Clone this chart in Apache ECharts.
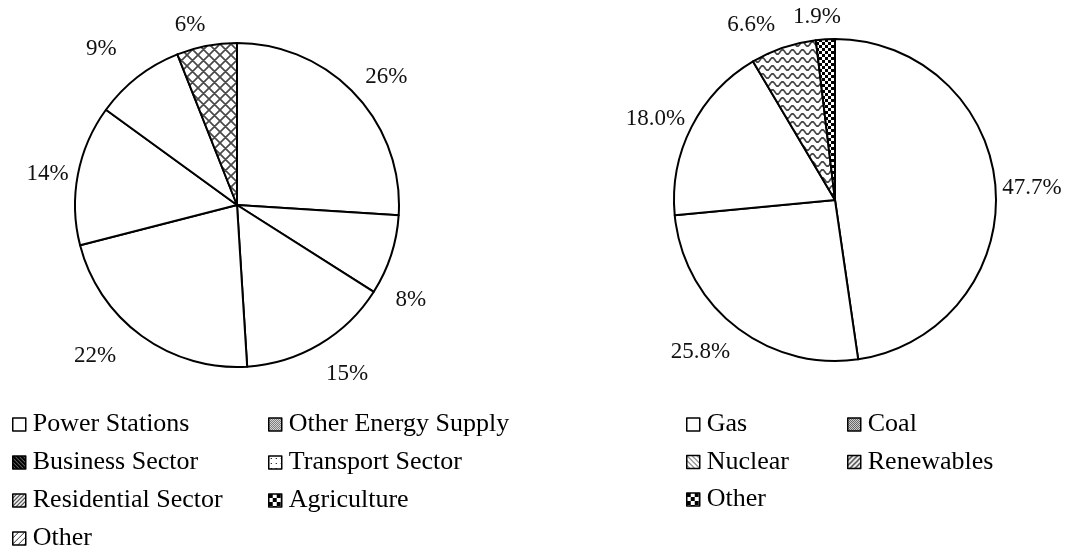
<!DOCTYPE html>
<html>
<head>
<meta charset="utf-8">
<script src="https://cdn.jsdelivr.net/npm/echarts@6/dist/echarts.min.js"></script>
<style>
  html, body { margin: 0; padding: 0; background: #fff; }
  #chart { width: 1065px; height: 546px; }
</style>
</head>
<body>
<div id="chart"></div>
<script>
// 数据
var leftNames = ['Power Stations', 'Other Energy Supply', 'Business Sector', 'Transport Sector', 'Residential Sector', 'Agriculture', 'Other'];
var leftValues = [26, 8, 15, 22, 14, 9, 6];
var rightNames = ['Gas', 'Coal', 'Nuclear', 'Renewables', 'Other'];
var rightValues = [47.7, 25.8, 18.0, 6.6, 1.9];

// 图例分栏
var leftCol1 = ['Power Stations', 'Business Sector', 'Residential Sector', 'Other'];
var leftCol2 = ['Other Energy Supply', 'Transport Sector', 'Agriculture'];
var rightCol1 = ['Gas', 'Nuclear', 'Other'];
var rightCol2 = ['Coal', 'Renewables'];

var FONT = '"Liberation Serif", "Times New Roman", serif';
var leftCenter = [237, 205], leftR = 162;
var rightCenter = [835, 200], rightR = 161;

// 标签微调 (像素), 按数据顺序
var leftLabelShift = [[7, 6], [-7, 36], [12, 3], [-28, -6], [2, 5], [-19, -6], [-12, 3]];
var rightLabelShift = [[-4, 2], [-12, -4], [1, 11], [-23, 5], [-7, 1]];

//纹理.....................................................
function tile(w, h, draw) {
    var c = document.createElement('canvas');
    c.width = w;
    c.height = h;
    var g = c.getContext('2d');
    g.fillStyle = '#fff';
    g.fillRect(0, 0, w, h);
    draw(g, w, h);
    return { image: c, repeat: 'repeat' };
}

var crossHatch = tile(11, 11, function (g, w, h) {
    g.strokeStyle = '#4a4a4a';
    g.lineWidth = 1.7;
    g.beginPath();
    for (var k = -1; k <= 1; k++) {
        g.moveTo(k * w - 1, -1); g.lineTo(k * w + w + 1, h + 1);
        g.moveTo(k * w + w + 1, -1); g.lineTo(k * w - 1, h + 1);
    }
    g.stroke();
});

var wave = tile(10, 8, function (g, w, h) {
    g.strokeStyle = '#444';
    g.lineWidth = 1.7;
    g.beginPath();
    for (var x = -1; x <= w + 1; x += 0.5) {
        var y = 4 - 2.2 * Math.sin(2 * Math.PI * x / w);
        if (x === -1) g.moveTo(x, y); else g.lineTo(x, y);
    }
    g.stroke();
});

var checker = tile(6, 6, function (g) {
    g.fillStyle = '#000';
    g.fillRect(0, 0, 3, 3);
    g.fillRect(3, 3, 3, 3);
});

var fineGrey = tile(2, 2, function (g) {
    g.fillStyle = '#555';
    g.fillRect(0, 0, 1, 1);
    g.fillRect(1, 1, 1, 1);
});

var bigChecker = tile(8, 8, function (g) {
    g.fillStyle = '#000';
    g.fillRect(0, 0, 4, 4);
    g.fillRect(4, 4, 4, 4);
});

function diag(step, width, up, color) {
    return tile(step, step, function (g, w, h) {
        g.strokeStyle = color || '#000';
        g.lineWidth = width;
        g.beginPath();
        for (var k = -1; k <= 1; k++) {
            if (up) { g.moveTo(k * w - 1, h + 1); g.lineTo(k * w + w + 1, -1); }
            else { g.moveTo(k * w - 1, -1); g.lineTo(k * w + w + 1, h + 1); }
        }
        g.stroke();
    });
}

var dots = tile(5, 5, function (g) {
    g.fillStyle = '#000';
    g.fillRect(2, 2, 1, 1);
});

//图例图标
var legendFill = {
    'Power Stations': '#fff',
    'Other Energy Supply': fineGrey,
    'Business Sector': diag(4, 2.5, false),
    'Transport Sector': dots,
    'Residential Sector': diag(4, 1.2, true, '#333'),
    'Agriculture': bigChecker,
    'Other': diag(6, 1, true, '#333'),
    'Gas': '#fff',
    'Coal': tile(2, 2, function (g) { g.fillStyle = '#333'; g.fillRect(0, 0, 1, 1); g.fillRect(1, 1, 1, 1); }),
    'Nuclear': diag(5, 1, false, '#333'),
    'Renewables': diag(5, 1.3, true, '#222')
};

//数据项
function buildData(names, values, fills) {
    return names.map(function (n, i) {
        return { name: n, value: values[i], itemStyle: { color: fills[n] || '#fff' } };
    });
}

function legendData(names, side) {
    return names.map(function (n) {
        var fill = legendFill[n];
        if (n === 'Other' && side === 'right') fill = bigChecker;
        return { name: n, itemStyle: { color: fill, borderColor: '#000', borderWidth: 1.5 } };
    });
}

function makeLegend(names, side, left, top, gap) {
    return {
        orient: 'vertical',
        left: left,
        top: top,
        height: 200,
        data: legendData(names, side),
        icon: 'rect',
        itemWidth: 13,
        itemHeight: 13,
        itemGap: gap,
        padding: 0,
        selectedMode: false,
        textStyle: { fontFamily: FONT, fontSize: 26, color: '#000', lineHeight: 27, padding: [0, 0, 0, 2] }
    };
}

//标签位置: 在圆外沿半径方向
function placeLabel(center, r, values, shift) {
    var total = values.reduce(function (a, b) { return a + b; }, 0);
    return function (p) {
        var before = 0;
        for (var i = 0; i < p.dataIndex; i++) before += values[i];
        var a = (before + values[p.dataIndex] / 2) / total * 2 * Math.PI;
        var ux = Math.sin(a), uy = -Math.cos(a);
        var hw = p.labelRect.width / 2, hh = p.labelRect.height / 2;
        var d = r + 10 + hw * Math.abs(ux) + hh * Math.abs(uy);
        var s = shift[p.dataIndex] || [0, 0];
        return {
            x: center[0] + ux * d + s[0],
            y: center[1] + uy * d + s[1],
            align: 'center',
            verticalAlign: 'middle'
        };
    };
}

function pieSeries(center, r, names, values, fills, digits, shift) {
    return {
        type: 'pie',
        left: 0,
        top: 0,
        width: 2000,
        height: 546,
        center: center,
        radius: [0, r],
        startAngle: 90,
        clockwise: true,
        animation: false,
        silent: true,
        data: buildData(names, values, fills),
        itemStyle: { borderColor: '#000', borderWidth: 2 },
        label: {
            show: true,
            position: 'outside',
            fontFamily: FONT,
            fontSize: 23,
            color: '#111',
            overflow: 'none',
            formatter: function (p) { return p.value.toFixed(digits) + '%'; }
        },
        labelLine: { show: false },
        labelLayout: placeLabel(center, r, values, shift),
        emphasis: { disabled: true }
    };
}

var mychart = echarts.init(document.getElementById('chart'), null, { renderer: 'canvas' });
mychart.setOption({
    backgroundColor: '#fff',
    animation: false,
    legend: [
        makeLegend(leftCol1, 'left', 12, 411, 11),
        makeLegend(leftCol2, 'left', 268, 411, 11),
        makeLegend(rightCol1, 'right', 686, 411, 10.5),
        makeLegend(rightCol2, 'right', 847, 411, 10.5)
    ],
    series: [
        pieSeries(leftCenter, leftR, leftNames, leftValues, { 'Other': crossHatch }, 0, leftLabelShift),
        pieSeries(rightCenter, rightR, rightNames, rightValues, { 'Renewables': wave, 'Other': checker }, 1, rightLabelShift)
    ]
});
</script>
</body>
</html>
